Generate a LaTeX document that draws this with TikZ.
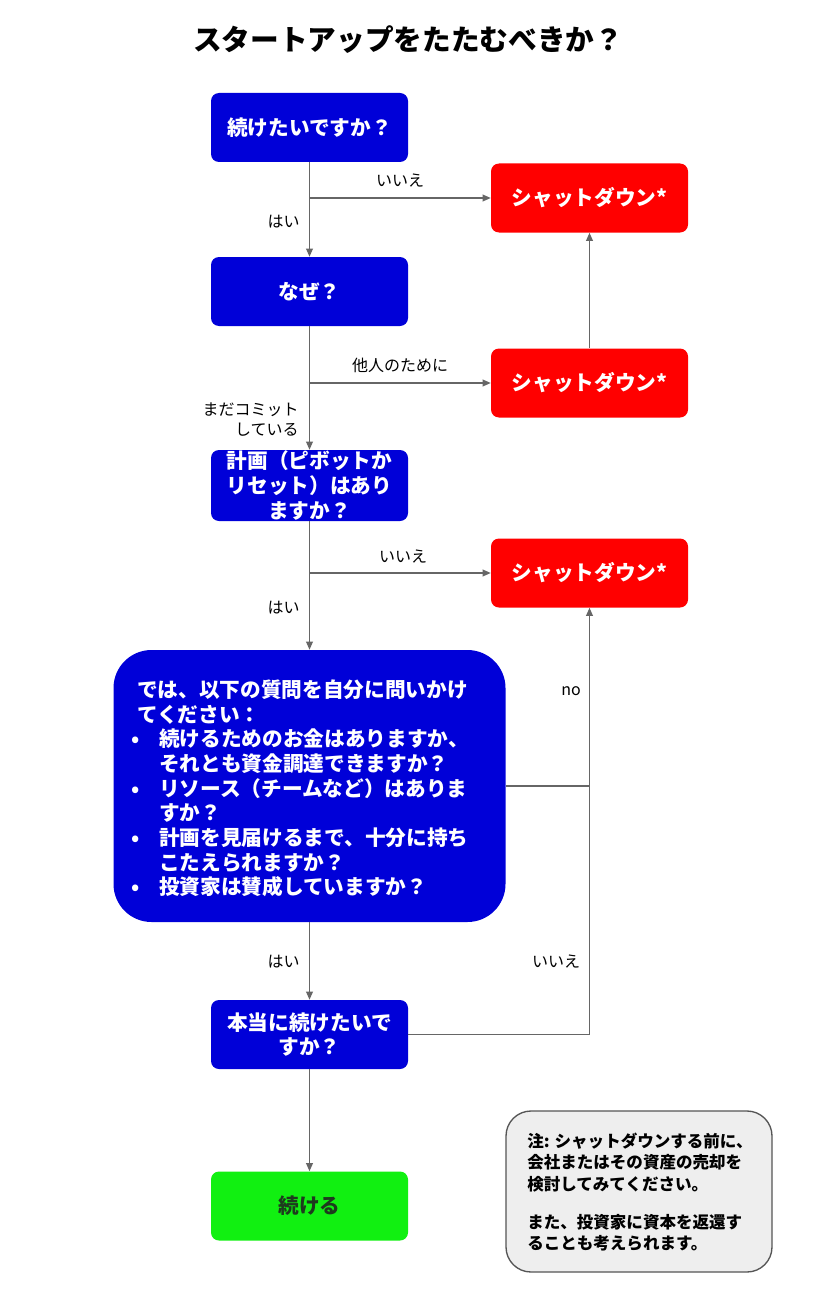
\documentclass[tikz,border=0pt]{standalone}
\usepackage{fontspec}
\setmainfont{Noto Sans CJK JP}
\usetikzlibrary{arrows.meta}
\definecolor{boxblue}{HTML}{0000D8}
\definecolor{boxred}{HTML}{FF0000}
\definecolor{boxgreen}{HTML}{11F011}
\definecolor{linegray}{HTML}{666666}
\definecolor{notefill}{HTML}{EEEEEE}
\definecolor{noteline}{HTML}{555555}
\definecolor{darktext}{HTML}{1E3A1E}
\newcommand\bul{\makebox[16.5pt][l]{\hspace*{-4.5pt}\textbullet}}
\newcommand\ind{\hspace*{16.5pt}}
\begin{document}
\begin{tikzpicture}[x=0.75pt,y=-0.75pt,
  box/.style={rounded corners=6pt, minimum width=147.75pt, minimum height=51.75pt,
    inner sep=0pt, align=center, font=\fontsize{15.5}{18.5}\selectfont\bfseries, text=white},
  qbox/.style={box, fill=boxblue},
  sbox/.style={box, fill=boxred},
  gbox/.style={box, fill=boxgreen, text=darktext},
  lbl/.style={font=\fontsize{12}{15}\selectfont, text=black, inner sep=0pt},
  conn/.style={draw=linegray, line width=1pt},
  arr/.style={conn, -{Triangle[length=6pt,width=5pt]}}
]
\useasboundingbox (0,0) rectangle (816,1309);
\fill[white] (0,0) rectangle (816,1309);

\node[font=\fontsize{21.5}{26}\selectfont\bfseries] (title) at (408,40) {スタートアップをたたむべきか？};

\node[qbox] (b1) at (309.5,127.5) {続けたいですか？};
\node[sbox] (s1) at (589.5,198) {シャットダウン*};
\node[qbox] (b2) at (309.5,291.5) {なぜ？};
\node[sbox] (s2) at (589.5,383) {シャットダウン*};
\node[qbox, minimum height=53.25pt] (b3) at (309.5,485.5) {計画（ピボットか\\リセット）はあり\\ますか？};
\node[sbox] (s3) at (589.5,573) {シャットダウン*};
\node[fill=boxblue, rounded corners=28.5pt, minimum width=294pt, minimum height=204pt, inner sep=0pt] (b4) at (309.5,786) {};
\node[anchor=west, align=left, inner sep=0pt, text=white, font=\fontsize{15.5}{18.5}\selectfont\bfseries] (b4t) at (137,788.5) {では、以下の質問を自分に問いかけ\\てください：\\\bul 続けるためのお金はありますか、\\\ind それとも資金調達できますか？\\\bul リソース（チームなど）はありま\\\ind すか？\\\bul 計画を見届けるまで、十分に持ち\\\ind こたえられますか？\\\bul 投資家は賛成していますか？};
\node[qbox] (b5) at (309.5,1034.5) {本当に続けたいで\\すか？};
\node[gbox] (b6) at (309.5,1206) {続ける};
\node[draw=noteline, line width=1pt, fill=notefill, rounded corners=18.75pt, minimum width=199.5pt, minimum height=120.75pt, inner sep=0pt] (note) at (639,1191.5) {};
\node[anchor=west, align=left, inner sep=0pt, font=\fontsize{12.4}{16}\selectfont\bfseries] (notet) at (527,1192) {注: シャットダウンする前に、\\会社またはその資産の売却を\\検討してみてください。\\[12.5pt]また、投資家に資本を返還す\\ることも考えられます。};

% connectors
\draw[arr] (b1.south) -- (b2.north);
\draw[arr] (b1.south |- s1.west) -- (s1.west);
\draw[arr] (s2.north) -- (s1.south);
\draw[arr] (b2.south) -- (b3.north);
\draw[arr] (b2.south |- s2.west) -- (s2.west);
\draw[arr] (b3.south) -- (b4.north);
\draw[arr] (b3.south |- s3.west) -- (s3.west);
\draw[conn] (b4.east) -- (s3.south |- b4.east);
\draw[arr] (s3.south |- b4.east) -- (s3.south);
\draw[conn] (b5.east) -- (s3.south |- b5.east) -- (s3.south |- b4.east);
\draw[arr] (b4.south) -- (b5.north);
\draw[arr] (b5.south) -- (b6.north);

% labels
\node[lbl] (l1) at (400,181) {いいえ};
\node[lbl, anchor=east] (l2) at (300,222) {はい};
\node[lbl] (l3) at (400,365) {他人のために};
\node[lbl, anchor=east, align=right] (l4) at (299,420) {まだコミット\\している};
\node[lbl] (l5) at (403,557) {いいえ};
\node[lbl, anchor=east] (l6) at (300,608) {はい};
\node[lbl] (l7) at (571,691) {no};
\node[lbl, anchor=east] (l8) at (300,962) {はい};
\node[lbl] (l9) at (556,962) {いいえ};
\end{tikzpicture}
\end{document}
